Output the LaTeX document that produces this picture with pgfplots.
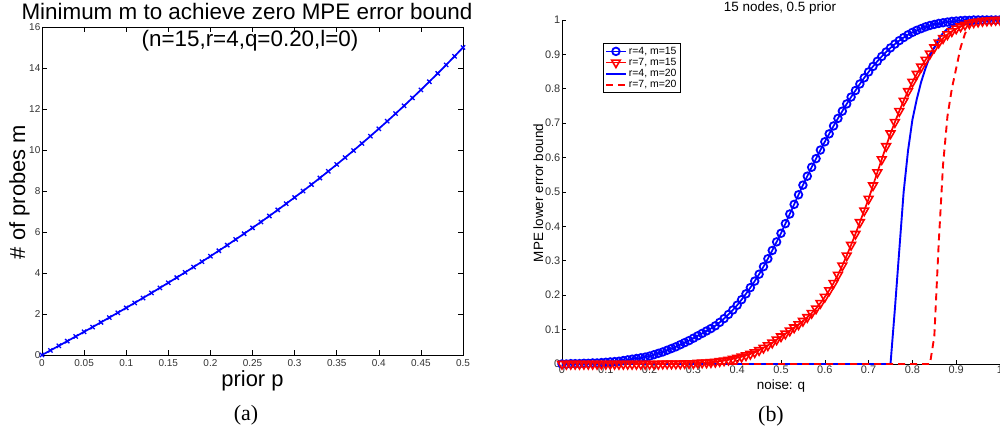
\documentclass[border=0pt]{standalone}
\usepackage{fontspec}
\setmainfont{Liberation Sans}
\newfontfamily\seriffont{Liberation Serif}
\usepackage{pgfplots}
\usepackage{pgfplotstable}
\pgfplotsset{compat=1.18}

% (a) minimum number of probes vs prior
\pgfplotstableread{
p m
0.00 0.000
0.01 0.224
0.02 0.449
0.03 0.675
0.04 0.902
0.05 1.131
0.06 1.361
0.07 1.593
0.08 1.827
0.09 2.062
0.10 2.300
0.11 2.540
0.12 2.782
0.13 3.027
0.14 3.274
0.15 3.524
0.16 3.776
0.17 4.032
0.18 4.291
0.19 4.553
0.20 4.818
0.21 5.087
0.22 5.359
0.23 5.636
0.24 5.916
0.25 6.200
0.26 6.488
0.27 6.781
0.28 7.078
0.29 7.380
0.30 7.686
0.31 7.997
0.32 8.313
0.33 8.634
0.34 8.961
0.35 9.293
0.36 9.630
0.37 9.973
0.38 10.321
0.39 10.676
0.40 11.036
0.41 11.403
0.42 11.776
0.43 12.155
0.44 12.541
0.45 12.933
0.46 13.332
0.47 13.739
0.48 14.152
0.49 14.572
0.50 15.000
}\priortable

% (b) MPE lower error bound vs noise
% A: r=4,m=15  B: r=7,m=15  C: r=4,m=20  D: r=7,m=20
\pgfplotstableread{
q A B C D
0.00 0.000 0.000 0 0
0.01 0.000 0.000 0 0
0.02 0.001 0.000 0 0
0.03 0.001 0.000 0 0
0.04 0.001 0.000 0 0
0.05 0.002 0.000 0 0
0.06 0.002 0.000 0 0
0.07 0.003 0.000 0 0
0.08 0.003 0.000 0 0
0.09 0.004 0.000 0 0
0.10 0.005 0.000 0 0
0.11 0.006 0.000 0 0
0.12 0.007 0.000 0 0
0.13 0.008 0.000 0 0
0.14 0.010 0.000 0 0
0.15 0.012 0.000 0 0
0.16 0.014 0.000 0 0
0.17 0.016 0.000 0 0
0.18 0.018 0.000 0 0
0.19 0.020 0.000 0 0
0.20 0.023 0.000 0 0
0.21 0.027 0.000 0 0
0.22 0.031 0.000 0 0
0.23 0.035 0.001 0 0
0.24 0.040 0.001 0 0
0.25 0.045 0.001 0 0
0.26 0.050 0.001 0 0
0.27 0.056 0.001 0 0
0.28 0.062 0.002 0 0
0.29 0.068 0.002 0 0
0.30 0.075 0.002 0 0
0.31 0.082 0.003 0 0
0.32 0.089 0.004 0 0
0.33 0.096 0.004 0 0
0.34 0.103 0.005 0 0
0.35 0.111 0.006 0 0
0.36 0.121 0.008 0 0
0.37 0.132 0.010 0 0
0.38 0.144 0.012 0 0
0.39 0.157 0.015 0 0
0.40 0.171 0.018 0 0
0.41 0.187 0.021 0 0
0.42 0.204 0.025 0 0
0.43 0.222 0.029 0 0
0.44 0.241 0.034 0 0
0.45 0.261 0.040 0 0
0.46 0.283 0.047 0 0
0.47 0.306 0.054 0 0
0.48 0.330 0.062 0 0
0.49 0.355 0.071 0 0
0.50 0.380 0.080 0 0
0.51 0.408 0.088 0 0
0.52 0.436 0.097 0 0
0.53 0.464 0.106 0 0
0.54 0.492 0.115 0 0
0.55 0.520 0.125 0 0
0.56 0.546 0.136 0 0
0.57 0.572 0.148 0 0
0.58 0.597 0.161 0 0
0.59 0.622 0.177 0 0
0.60 0.646 0.195 0 0
0.61 0.669 0.214 0 0
0.62 0.692 0.235 0 0
0.63 0.714 0.259 0 0
0.64 0.735 0.286 0 0
0.65 0.756 0.315 0 0
0.66 0.776 0.346 0 0
0.67 0.795 0.378 0 0
0.68 0.814 0.412 0 0
0.69 0.832 0.446 0 0
0.70 0.849 0.480 0 0
0.71 0.865 0.519 0 0
0.72 0.880 0.557 0 0
0.73 0.894 0.595 0 0
0.74 0.907 0.633 0 0
0.75 0.919 0.670 0.000 0
0.76 0.930 0.703 0.160 0
0.77 0.940 0.735 0.330 0
0.78 0.949 0.765 0.500 0
0.79 0.957 0.793 0.620 0
0.80 0.964 0.820 0.710 0
0.81 0.970 0.843 0.770 0
0.82 0.975 0.864 0.820 0
0.83 0.980 0.884 0.860 0
0.84 0.984 0.902 0.895 0.000
0.85 0.987 0.920 0.920 0.080
0.86 0.990 0.934 0.945 0.350
0.87 0.992 0.947 0.962 0.580
0.88 0.994 0.958 0.974 0.720
0.89 0.996 0.967 0.983 0.800
0.90 0.997 0.975 0.989 0.860
0.91 0.998 0.981 0.993 0.920
0.92 0.999 0.986 0.996 0.960
0.93 0.999 0.990 0.998 0.985
0.94 1.000 0.993 0.999 0.995
0.95 1.000 0.995 1.000 1.000
0.96 1.000 0.997 1.000 1.000
0.97 1.000 0.998 1.000 1.000
0.98 1.000 0.999 1.000 1.000
0.99 1.000 1.000 1.000 1.000
1.00 1.000 1.000 1.000 1.000
}\noisetable

\begin{document}
\begin{tikzpicture}
\useasboundingbox (0,0) rectangle (1000bp,434bp);

\begin{axis}[
    at={(42bp,79bp)}, anchor=south west,
    width=421bp, height=328bp, scale only axis,
    xmin=0, xmax=0.5, ymin=0, ymax=16,
    xtick={0,0.05,0.1,0.15,0.2,0.25,0.3,0.35,0.4,0.45,0.5},
    xticklabels={0,0.05,0.1,0.15,0.2,0.25,0.3,0.35,0.4,0.45,0.5},
    ytick={0,2,4,6,8,10,12,14,16},
    yticklabels={0,2,4,6,8,10,12,14,16},
    scaled ticks=false,
    tick align=inside,
    major tick length=5bp,
    tick style={black, line width=0.6bp},
    axis line style={line width=0.9bp},
    /pgf/number format/assume math mode=true,
    ticklabel style={font=\fontsize{10}{12}\selectfont, color=black!80},
    xticklabel style={inner sep=1bp, yshift=-3bp},
    yticklabel style={inner sep=1.5bp},
]
\addplot[blue, line width=1.7bp, mark=x, mark size=3bp,
    mark options={solid, line width=1.3bp}] table[x=p, y=m] {\priortable};
\end{axis}

\begin{axis}[
    at={(562bp,70bp)}, anchor=south west,
    width=438bp, height=344bp, scale only axis,
    xmin=0, xmax=1, ymin=0, ymax=1,
    axis x line=bottom, axis y line=left,
    axis line style={-, line width=0.9bp},
    xtick={0,0.1,0.2,0.3,0.4,0.5,0.6,0.7,0.8,0.9,1},
    xticklabels={0,0.1,0.2,0.3,0.4,0.5,0.6,0.7,0.8,0.9,1},
    ytick={0,0.1,0.2,0.3,0.4,0.5,0.6,0.7,0.8,0.9,1},
    yticklabels={0,0.1,0.2,0.3,0.4,0.5,0.6,0.7,0.8,0.9,1},
    scaled ticks=false,
    tick align=inside,
    major tick length=4bp,
    tick style={black, line width=0.6bp},
    /pgf/number format/assume math mode=true,
    ticklabel style={font=\fontsize{11}{13}\selectfont, color=black!80},
    xticklabel style={inner sep=1bp, yshift=-1bp},
    yticklabel style={inner sep=1.5bp},
    clip=false,
    legend style={at={(rel axis cs:0.0936,0.933)}, anchor=north west,
        font=\fontsize{10.5}{11.5}\selectfont, draw=black, line width=1bp,
        inner sep=1.5bp, row sep=-1.5bp, cells={anchor=west}},
    legend image code/.code={
        \draw[mark repeat=2, mark phase=2, #1]
            plot coordinates {(0bp,0bp) (10bp,0bp) (20bp,0bp)};},
]
\addplot[blue, line width=1.7bp, mark=o, mark size=3.8bp,
    mark options={solid, line width=1.8bp}] table[x=q, y=A] {\noisetable};
\addlegendentry{r=4, m=15}
\addplot[red, line width=1.7bp, mark=triangle, mark size=5bp,
    mark options={solid, rotate=180, line width=1.6bp}] table[x=q, y=B] {\noisetable};
\addlegendentry{r=7, m=15}
\addplot[blue, line width=1.9bp] table[x=q, y=C] {\noisetable};
\addlegendentry{r=4, m=20}
\addplot[red, line width=1.9bp, dash pattern=on 7bp off 5bp] table[x=q, y=D] {\noisetable};
\addlegendentry{r=7, m=20}
\end{axis}

\node[anchor=base, font=\fontsize{22.5}{27}\selectfont] at (247bp,414bp) {Minimum m to achieve zero MPE error bound};
\node[anchor=base, font=\fontsize{22.5}{27}\selectfont] at (250bp,387.3bp) {(n=15,r=4,q=0.20,l=0)};
\node[anchor=base, font=\fontsize{22}{26}\selectfont] at (252.5bp,47bp) {prior p};
\node[anchor=base, rotate=90, font=\fontsize{22}{26}\selectfont] at (25bp,242bp) {\# of probes m};
\node[anchor=base, font=\seriffont\fontsize{22}{26}\selectfont] at (246bp,14bp) {(a)};

\node[anchor=base, font=\fontsize{13.5}{16}\selectfont] at (780bp,422bp) {15 nodes, 0.5 prior};
\node[anchor=base, font=\fontsize{13.5}{16}\selectfont] at (781bp,44bp) {noise: q};
\node[anchor=base, rotate=90, font=\fontsize{13.5}{16}\selectfont] at (543bp,241bp) {MPE lower error bound};
\node[anchor=base, font=\seriffont\fontsize{22}{26}\selectfont] at (771bp,13bp) {(b)};
\end{tikzpicture}
\end{document}
